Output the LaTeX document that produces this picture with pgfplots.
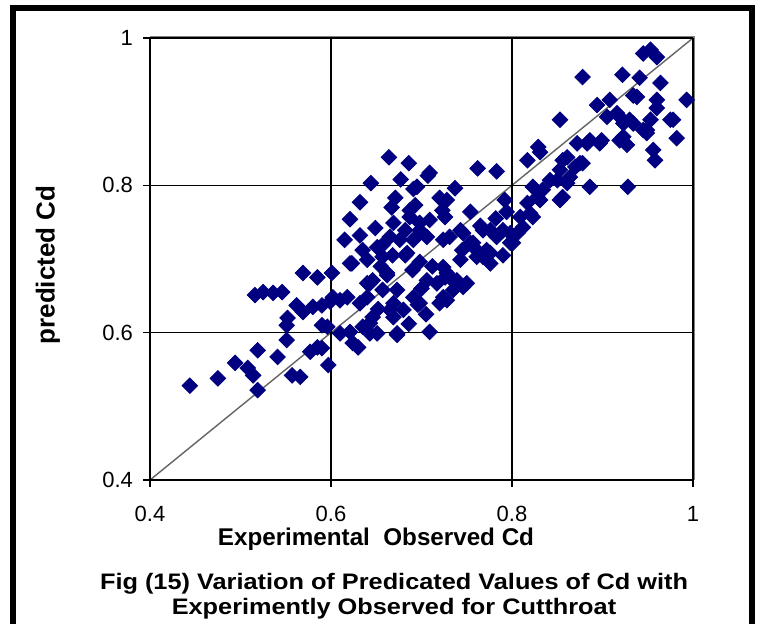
\documentclass[border=0pt]{standalone}
\usepackage{pgfplots}
\pgfplotsset{compat=1.18}
\usepackage{pgfplotstable}
\usepackage{graphicx}
\usepackage{fontspec}
\setmainfont{Liberation Sans}
\definecolor{navy}{RGB}{0,0,128}
\definecolor{bordergray}{RGB}{128,128,128}
\definecolor{diaggray}{RGB}{100,100,100}

\pgfplotstableread{
x y
0.444 0.528
0.475 0.538
0.494 0.559
0.508 0.552
0.514 0.542
0.519 0.522
0.519 0.576
0.516 0.651
0.525 0.655
0.536 0.654
0.546 0.655
0.541 0.567
0.551 0.590
0.551 0.610
0.552 0.620
0.562 0.637
0.569 0.628
0.557 0.542
0.566 0.540
0.569 0.681
0.585 0.675
0.601 0.681
0.580 0.635
0.590 0.637
0.577 0.574
0.585 0.580
0.590 0.579
0.590 0.610
0.596 0.608
0.597 0.556
0.599 0.642
0.610 0.644
0.618 0.648
0.623 0.694
0.610 0.599
0.621 0.601
0.630 0.580
0.624 0.586
0.643 0.613
0.646 0.621
0.640 0.667
0.646 0.671
0.662 0.678
0.669 0.640
0.673 0.599
0.665 0.631
0.643 0.599
0.651 0.599
0.635 0.608
0.602 0.648
0.640 0.648
0.664 0.838
0.686 0.830
0.707 0.813
0.644 0.803
0.677 0.808
0.691 0.795
0.632 0.777
0.621 0.754
0.615 0.726
0.671 0.783
0.667 0.770
0.687 0.766
0.720 0.783
0.723 0.766
0.698 0.749
0.709 0.753
0.669 0.749
0.665 0.730
0.676 0.726
0.691 0.726
0.706 0.730
0.635 0.712
0.651 0.716
0.684 0.708
0.724 0.726
0.621 0.694
0.640 0.699
0.657 0.703
0.682 0.705
0.698 0.696
0.724 0.689
0.662 0.681
0.643 0.667
0.673 0.658
0.691 0.648
0.698 0.640
0.680 0.631
0.669 0.621
0.673 0.597
0.709 0.601
0.720 0.640
0.726 0.675
0.706 0.671
0.657 0.658
0.632 0.732
0.649 0.742
0.657 0.719
0.682 0.739
0.693 0.773
0.762 0.823
0.783 0.819
0.817 0.834
0.831 0.845
0.737 0.796
0.728 0.780
0.726 0.757
0.754 0.764
0.792 0.780
0.794 0.764
0.823 0.798
0.831 0.780
0.820 0.762
0.842 0.807
0.853 0.821
0.853 0.780
0.776 0.739
0.790 0.739
0.806 0.735
0.798 0.722
0.746 0.735
0.731 0.730
0.761 0.712
0.776 0.694
0.768 0.703
0.743 0.699
0.728 0.681
0.750 0.667
0.735 0.658
0.724 0.648
0.757 0.722
0.812 0.743
0.878 0.947
0.853 0.889
0.829 0.852
0.922 0.950
0.945 0.979
0.953 0.984
0.960 0.974
0.964 0.939
0.941 0.946
0.934 0.922
0.960 0.916
0.960 0.905
0.993 0.916
0.978 0.889
0.982 0.864
0.956 0.848
0.958 0.834
0.949 0.875
0.953 0.889
0.923 0.866
0.928 0.798
0.894 0.909
0.908 0.916
0.905 0.893
0.916 0.898
0.923 0.884
0.934 0.884
0.886 0.798
0.878 0.830
0.899 0.861
0.886 0.861
0.872 0.857
0.856 0.834
0.870 0.825
0.850 0.807
0.861 0.803
0.834 0.794
0.828 0.784
0.817 0.776
0.809 0.757
0.823 0.757
0.798 0.735
0.783 0.730
0.768 0.739
0.772 0.712
0.801 0.722
0.709 0.817
0.695 0.798
0.687 0.757
0.698 0.739
0.743 0.739
0.938 0.920
0.919 0.893
0.930 0.889
0.975 0.889
0.945 0.875
0.883 0.857
0.897 0.857
0.919 0.861
0.927 0.855
0.949 0.871
0.875 0.830
0.861 0.838
0.864 0.811
0.856 0.784
0.746 0.662
0.728 0.644
0.696 0.638
0.731 0.675
0.717 0.667
0.739 0.671
0.754 0.722
0.761 0.703
0.776 0.708
0.655 0.690
0.668 0.705
0.690 0.685
0.700 0.660
0.712 0.690
0.632 0.640
0.652 0.632
0.686 0.612
0.705 0.625
0.765 0.745
0.782 0.755
0.745 0.712
0.790 0.705
}\cddata

\begin{document}
\begin{tikzpicture}[font=\fontsize{11}{13}\selectfont]
\useasboundingbox (0,0) rectangle (379pt,312pt);
\begin{axis}[
  at={(75pt,72pt)}, anchor=south west,
  scale only axis, width=271.5pt, height=221pt,
  xmin=0.4, xmax=1, ymin=0.4, ymax=1,
  xtick={0.4,0.6,0.8,1}, ytick={0.4,0.6,0.8,1},
  xticklabels={0.4,0.6,0.8,1}, yticklabels={0.4,0.6,0.8,1},
  xtick pos=left, ytick pos=left,
  tick align=outside, major tick length=3.5pt,
  tick style={black, line width=0.6pt},
  grid=major, major grid style={black, line width=0.6pt},
  axis line style={draw=none},
  axis on top,
  clip=false,
  /pgf/number format/assume math mode=true,
  xticklabel style={yshift=-6pt},
  yticklabel style={xshift=-1.5pt},
]
\addplot[only marks, mark=square*, mark size=2.75pt, color=navy,
  mark options={rotate=45, fill=navy, draw=navy}] table[x=x, y=y] {\cddata};
\addplot[diaggray, line width=0.7pt, no marks] coordinates {(0.4,0.4) (1,1)};
\draw[bordergray, line width=1.5pt] (axis cs:0.4,1) -- (axis cs:1,1) -- (axis cs:1,0.4);
\draw[black, line width=0.8pt] (axis cs:0.4,1) -- (axis cs:0.4,0.4) -- (axis cs:1,0.4);
\end{axis}
\node[font=\fontsize{12.1}{14}\selectfont\bfseries] at (188pt,42.5pt) {Experimental\ \ Observed Cd};
\node[font=\fontsize{13}{15}\selectfont\bfseries, rotate=90] at (24pt,179.5pt) {predicted Cd};
\node[font=\fontsize{11.2}{13}\selectfont\bfseries] at (197pt,20pt) {\scalebox{1.13}[1]{Fig (15) Variation of Predicated Values of Cd with}};
\node[font=\fontsize{11.2}{13}\selectfont\bfseries] at (197pt,7.5pt) {\scalebox{1.13}[1]{Experimently Observed for Cutthroat}};
\draw[black, line width=3pt] (6.5pt,-5pt) -- (6.5pt,308pt) -- (376pt,308pt) -- (376pt,-5pt);
\end{tikzpicture}
\end{document}
